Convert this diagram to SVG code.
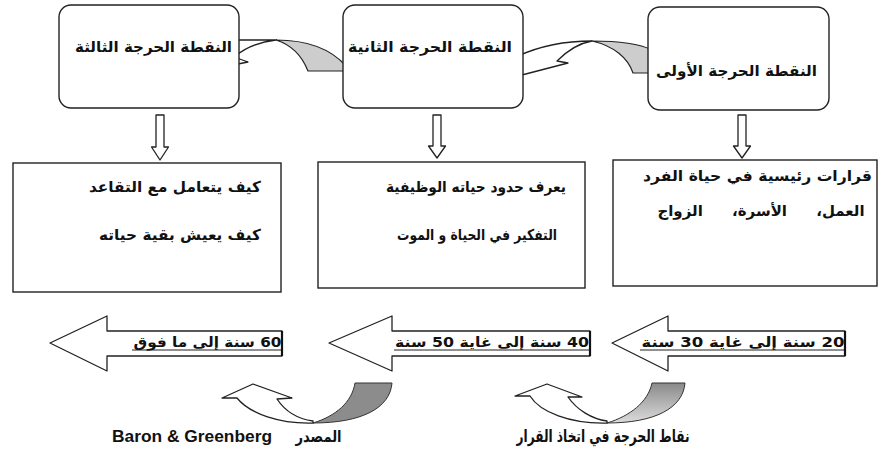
<svg xmlns="http://www.w3.org/2000/svg" width="879" height="476" viewBox="0 0 879 476">
<style>
.box{fill:#fff;stroke:#222;stroke-width:1.4}
.ar{font-family:'DejaVu Sans',sans-serif;font-weight:bold;fill:#111}
.t{font-size:15px}
.ln{fill:#fff;stroke:#222;stroke-width:1.3;stroke-linejoin:round}
.sh1{fill:#cdcdcd;stroke:#222;stroke-width:1.2}
.sh2{fill:#8c8c8c;stroke:#333;stroke-width:1}
.sh3{fill:url(#g3);stroke:#333;stroke-width:1}
.ul{stroke:#222;stroke-width:1}
</style>
<defs>
<linearGradient id="g3" x1="0" y1="0" x2="0" y2="1">
<stop offset="0" stop-color="#8a8a8a"/>
<stop offset="1" stop-color="#dcdcdc"/>
</linearGradient>
</defs>
<rect width="879" height="476" fill="#fff"/>
<g id="connectors">
<path class="sh1" d="M308,71 L346,71 L346,66 C330,48 305,40 276,40 C292,45 302,56 308,71 Z"/>
<path class="ln" d="M276,40 L228,40 L228,32 L218,68 L248,62 L234,57 C245,48 258,42 276,40 Z"/>
<path class="sh1" d="M592,41 C615,41 638,43 652,50 L652,73 L633,73 C628,58 614,46 592,41 Z"/>
<path class="ln" d="M592,41 C565,41 540,46 518,56 L518,76 L568,63 L557,61 C568,50 580,43 592,41 Z"/>
<path class="ln" d="M156,115 L164,115 L164,147 L168.5,147 L160,160 L151.5,147 L156,147 Z"/>
<path class="ln" d="M433,115 L441,115 L441,146 L445.5,146 L437,158 L428.5,146 L433,146 Z"/>
<path class="ln" d="M738,115 L746,115 L746,146 L750.5,146 L742,158 L733.5,146 L738,146 Z"/>
<path class="ln" d="M282,331 L107,331 L107,316 L50,343 L107,371 L107,356 L282,356 Z"/>
<path class="ln" d="M590,331 L392,331 L392,316 L329,343 L392,371 L392,356 L590,356 Z"/>
<path class="ln" d="M845,331 L668,331 L668,316 L612,343 L668,371 L668,356 L845,356 Z"/>
<line class="ul" x1="132" y1="350" x2="282" y2="350"/>
<line class="ul" x1="394" y1="350" x2="590" y2="350"/>
<line class="ul" x1="640" y1="350" x2="845" y2="350"/>
<line stroke="#111" stroke-width="2.2" x1="282" y1="331" x2="282" y2="356"/>
<line stroke="#111" stroke-width="2.2" x1="590" y1="331" x2="590" y2="356"/>
<line stroke="#111" stroke-width="2.2" x1="845" y1="331" x2="845" y2="356"/>
<path class="sh2" d="M355,383 L392,383 C390,408 362,423 313,423 C336,416 352,402 355,383 Z"/>
<path class="ln" d="M313,423 C280,424 250,414 237,398 L222,398 L253,384 L292,398 L277,399 C285,411 298,419 313,421 Z"/>
<path class="sh3" d="M652,383 L685,383 C683,408 655,423 607,423 C630,416 648,402 652,383 Z"/>
<path class="ln" d="M607,423 C570,424 540,412 530,396 L515,396 L547,384 L582,397 L568,397 C577,410 592,419 607,421 Z"/>
</g>
<g id="node-p3">
<rect class="box" x="59" y="5" width="180" height="103" rx="12"/>
<text class="ar t" x="153.5" y="52" text-anchor="middle" textLength="157" lengthAdjust="spacingAndGlyphs">النقطة الحرجة الثالثة</text>
</g>
<g id="node-p2">
<rect class="box" x="343" y="5" width="180" height="103" rx="12"/>
<text class="ar t" x="430" y="52" text-anchor="middle" textLength="164" lengthAdjust="spacingAndGlyphs">النقطة الحرجة الثانية</text>
</g>
<g id="node-p1">
<rect class="box" x="648" y="7" width="181" height="103" rx="12"/>
<text class="ar t" x="736.5" y="76" text-anchor="middle" textLength="161" lengthAdjust="spacingAndGlyphs">النقطة الحرجة الأولى</text>
</g>
<g id="node-d3">
<rect class="box" x="13" y="163" width="268" height="129"/>
<text class="ar t" x="175" y="192" text-anchor="middle" textLength="172" lengthAdjust="spacingAndGlyphs">كيف يتعامل مع التقاعد</text>
<text class="ar t" x="180" y="240" text-anchor="middle" textLength="162" lengthAdjust="spacingAndGlyphs">كيف يعيش بقية حياته</text>
</g>
<g id="node-d2">
<rect class="box" x="318" y="162" width="267" height="126"/>
<text class="ar t" x="476" y="192" text-anchor="middle" textLength="180" lengthAdjust="spacingAndGlyphs">يعرف حدود حياته الوظيفية</text>
<text class="ar t" x="477" y="240" text-anchor="middle" textLength="160" lengthAdjust="spacingAndGlyphs">التفكير في الحياة و الموت</text>
</g>
<g id="node-d1">
<rect class="box" x="613" y="160" width="264" height="126"/>
<text class="ar t" x="757.5" y="181" text-anchor="middle" textLength="229" lengthAdjust="spacingAndGlyphs">قرارات رئيسية في حياة الفرد</text>
<text class="ar t" x="761" y="216" text-anchor="middle" word-spacing="24">العمل، الأسرة، الزواج</text>
</g>
<g id="age-labels">
<text class="ar" font-size="14" x="207.5" y="347" text-anchor="middle" textLength="148" lengthAdjust="spacingAndGlyphs">&#8207;60 سنة إلى ما فوق</text>
<text class="ar" font-size="14" x="492" y="347" text-anchor="middle" textLength="194" lengthAdjust="spacingAndGlyphs">&#8207;40 سنة إلى غاية 50 سنة</text>
<text class="ar" font-size="14" x="743" y="347" text-anchor="middle" textLength="203" lengthAdjust="spacingAndGlyphs">&#8207;20 سنة إلى غاية 30 سنة</text>
</g>
<g id="captions">
<text class="ar" font-size="17" x="603" y="442" text-anchor="middle" textLength="173" lengthAdjust="spacingAndGlyphs">نقاط الحرجة في اتخاذ القرار</text>
<text class="ar" font-size="16" x="318.5" y="442" text-anchor="middle" textLength="46" lengthAdjust="spacingAndGlyphs">المصدر</text>
<text font-family="'Liberation Sans',Arial,sans-serif" font-weight="bold" font-size="16" fill="#111" x="112" y="442" textLength="160" lengthAdjust="spacingAndGlyphs">Baron &amp; Greenberg</text>
</g>
</svg>
